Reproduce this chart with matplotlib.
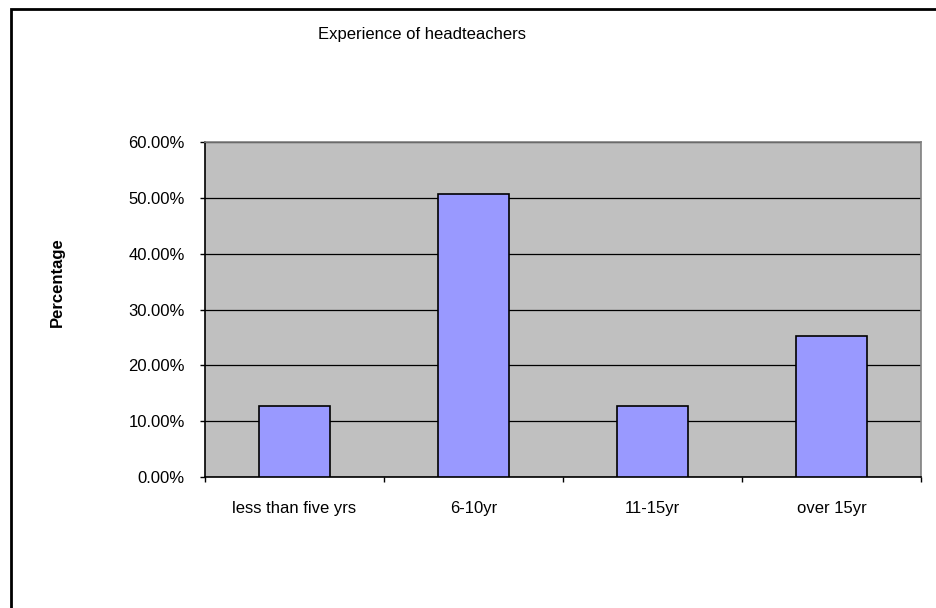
import matplotlib
matplotlib.use("Agg")
import matplotlib.pyplot as plt
from matplotlib.patches import Rectangle
from matplotlib.ticker import PercentFormatter, FixedLocator, NullFormatter

# ── data ──────────────────────────────────────────
categories = ["less than five yrs", "6-10yr", "11-15yr", "over 15yr"]
percent = [0.1266, 0.5063, 0.1266, 0.2532]
y_ticks = [0.0, 0.1, 0.2, 0.3, 0.4, 0.5, 0.6]

W, H = 936, 608
plt.rcParams["font.family"] = ["Liberation Sans", "DejaVu Sans"]

fig = plt.figure(figsize=(W / 100, H / 100), dpi=100)
fig.patch.set_facecolor("white")

# outer chart frame (left and top visible, rest runs off the image)
fig.patches.append(Rectangle((10.5 / W, -1), 2, 1 + (H - 8.5) / H,
                             transform=fig.transFigure, fill=False,
                             edgecolor="black", linewidth=2, clip_on=False))

ax = fig.add_axes([205 / W, 1 - 477 / H, (921 - 205) / W, (477 - 142) / H])
ax.set_facecolor("#C0C0C0")

x = list(range(len(categories)))
ax.bar(x, percent, width=0.4, color="#9999FF", edgecolor="black",
       linewidth=1.2, zorder=3)

ax.set_xlim(-0.5, len(categories) - 0.5)
ax.set_ylim(0, 0.6)
ax.set_yticks(y_ticks)
ax.yaxis.set_major_formatter(PercentFormatter(1.0, decimals=2))
ax.yaxis.grid(True, color="black", linewidth=0.9, zorder=1)
ax.set_axisbelow(True)

# category labels centred, ticks on category boundaries
ax.xaxis.set_major_locator(FixedLocator([i - 0.5 for i in range(len(categories) + 1)]))
ax.xaxis.set_major_formatter(NullFormatter())
ax.xaxis.set_minor_locator(FixedLocator(x))
ax.set_xticklabels(categories, minor=True)
ax.tick_params(axis="x", which="minor", length=0, pad=17.5, labelsize=12)
ax.tick_params(axis="x", which="major", length=3.6, direction="out", width=1)
ax.tick_params(axis="y", length=3.6, direction="out", width=1, labelsize=12, pad=11)

for side in ["left", "bottom"]:
    ax.spines[side].set_color("black")
    ax.spines[side].set_linewidth(1.2)
for side in ["top", "right"]:
    ax.spines[side].set_color("#808080")
    ax.spines[side].set_linewidth(1.2)

fig.text(422 / W, 1 - 35 / H, "Experience of headteachers",
         ha="center", va="center", fontsize=12)
fig.text(57 / W, 1 - 282 / H, "Percentage", rotation=90,
         ha="center", va="center", fontsize=12, fontweight="bold")

fig.savefig("out.png", dpi=100)
